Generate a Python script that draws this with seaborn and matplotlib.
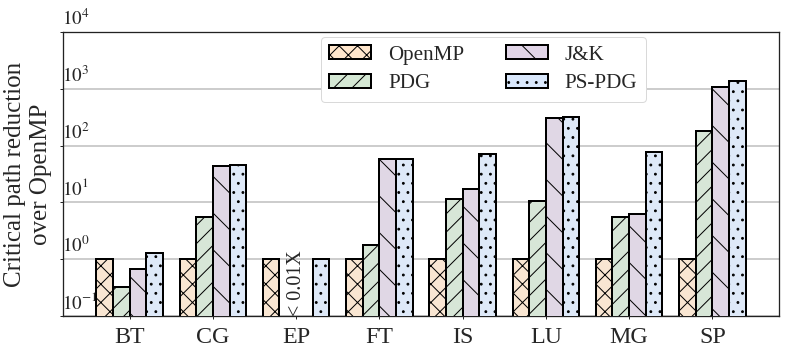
import pandas as pd
import matplotlib.pyplot as plt
import matplotlib.transforms as mtransforms
import seaborn as sns
import numpy as np
from matplotlib.patches import Patch

# data
benchmarks = ["BT", "CG", "EP", "FT", "IS", "LU", "MG", "SP"]
methods = ["OpenMP", "PDG", "J&K", "PS-PDG"]
openmp = [1, 1, 1, 1, 1, 1, 1, 1]
pdg = [0.32, 5.5, np.nan, 1.76, 11.3, 10.4, 5.5, 178]
jk = [0.66, 43, np.nan, 59, 17, 310, 6.2, 1080]
pspdg = [1.26, 46, 1.0, 59, 72, 320, 78, 1380]

yticks = [1e-1, 1e0, 1e1, 1e2, 1e3, 1e4]
ytick_labels = [r"$10^{-1}$", r"$10^{0}$", r"$10^{1}$", r"$10^{2}$", r"$10^{3}$", r"$10^{4}$"]

colors = ["#ffe6cc", "#d5e8d4", "#e1d5e7", "#dae8fc"]
hatches = ["xxxx", "////", "\\\\", "...."]

DPI = 220
px = 72 / DPI  # one pixel in points

df = pd.DataFrame({"bench": benchmarks * 4,
                   "method": np.repeat(methods, len(benchmarks)),
                   "value": openmp + pdg + jk + pspdg})

sns.set_style("ticks")
plt.rcParams["font.family"] = ["Liberation Serif", "DejaVu Serif"]
plt.rcParams["mathtext.fontset"] = "stix"
plt.rcParams["hatch.linewidth"] = 1.0 * px

fig = plt.figure(figsize=(789 / DPI, 356 / DPI), dpi=DPI)
ax = fig.add_axes([63 / 789, 40 / 356, 716 / 789, 284 / 356])

sns.barplot(data=df, x="bench", y="value", hue="method", order=benchmarks,
            hue_order=methods, palette=colors, width=0.8, gap=0,
            edgecolor="black", linewidth=2 * px, legend=False, ax=ax, zorder=3)

for cont, h in zip(ax.containers, hatches):
    for bar in cont:
        bar.set_hatch(h)

ax.set_yscale("log")
ax.set_ylim(1e-1, 1e4)
ax.set_xlim(-0.8, 7.8)
ax.yaxis.set_minor_locator(plt.NullLocator())
ax.set_yticks(yticks)
ax.set_yticklabels([])
ax.tick_params(axis="y", length=3 * px, width=1 * px)
ax.tick_params(axis="x", length=3 * px, width=1 * px, pad=8 * px, labelsize=24 * px)
ax.grid(axis="y", color="#bdbdbd", linewidth=1.5 * px, zorder=0)
ax.set_axisbelow(True)

# tick labels sit just above each gridline, inside the axes
lift = mtransforms.ScaledTranslation(0, 3 / DPI, fig.dpi_scale_trans)
for v, lab in zip(yticks, ytick_labels):
    ax.text(-0.002, v, lab, transform=ax.get_yaxis_transform() + lift, ha="left",
            va="bottom", fontsize=19 * px, zorder=5)

for s in ax.spines.values():
    s.set_linewidth(1.3 * px)
    s.set_color("#222222")

ax.set_xlabel("")
ax.set_ylabel("Critical path reduction\nover OpenMP", fontsize=25 * px)
ax.yaxis.set_label_coords(-0.016, 0.5)

ax.text(2, 1e-1, "< 0.01X", rotation=90, ha="center", va="bottom", fontsize=20 * px)

handles = [Patch(facecolor=c, edgecolor="black", hatch=h, linewidth=2 * px, label=m)
           for c, h, m in zip(colors, hatches, methods)]
leg = ax.legend(handles=handles, ncol=2, loc="upper center", bbox_to_anchor=(0.587, 1.02),
                fontsize=21 * px, handlelength=2.0, handleheight=0.65, columnspacing=2.0,
                framealpha=1, borderpad=0.4, labelspacing=0.45)
leg.get_frame().set_edgecolor("#d9d9d9")
leg.get_frame().set_linewidth(1 * px)

fig.savefig("out.png", dpi=DPI)
